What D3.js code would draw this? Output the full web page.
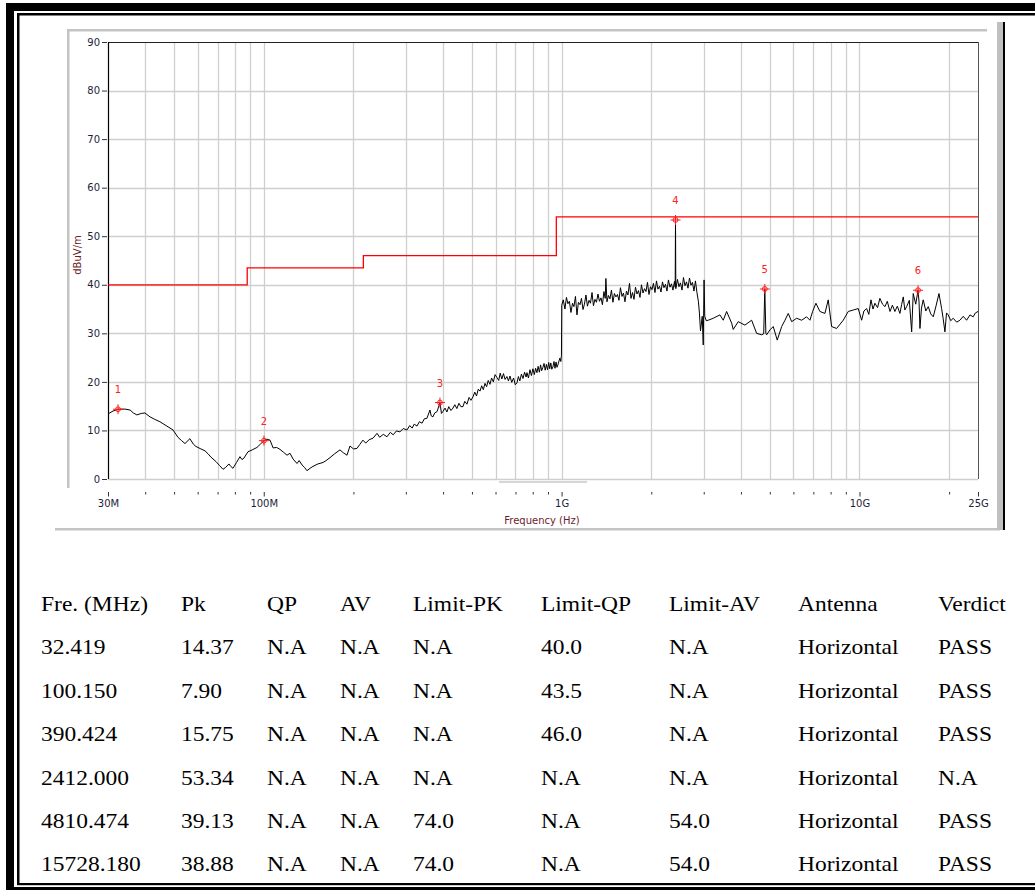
<!DOCTYPE html>
<html><head><meta charset="utf-8">
<script src="https://cdn.jsdelivr.net/npm/d3@7"></script>
<style>body{margin:0;background:#fff}svg{display:block}</style>
</head><body>
<svg id="c" width="1035" height="890"></svg>
<script>
// ---------- data ----------
const yTicks = [0,10,20,30,40,50,60,70,80,90];
const xMajorTicks = [30,100,1000,10000,25000];
const xMajorLabels = ["30M","100M","1G","10G","25G"];
const xMinorTicks = [40,50,60,70,80,90,200,300,400,500,600,700,800,900,2000,3000,4000,5000,6000,7000,8000,9000,20000];
const limitFreq  = [30,88,88,216,216,960,960,25000];
const limitLevel = [40,40,43.5,43.5,46,46,54,54];
const markerFreq  = [32.419,100.150,390.424,2412.000,4810.474,15728.180];
const markerLevel = [14.37,7.90,15.75,53.34,39.13,38.88];
const markerLabels = ["1","2","3","4","5","6"];
// trace: [frequency MHz, level dBuV/m]
const traceLow = [[30.0,13.4],[31.2,14.0],[32.42,14.37],[34.2,14.4],[35.6,14.2],[36.5,13.6],[37.5,13.2],[38.8,13.5],[39.9,13.6],[41.5,12.8],[43.0,12.3],[44.8,11.8],[47.0,11.0],[49.6,10.1],[51.5,8.6],[53.0,7.9],[54.4,7.3],[56.5,8.3],[58.0,7.2],[59.2,6.7],[61.5,6.2],[63.5,5.8],[65.0,5.2],[66.5,4.5],[69.1,3.6],[71.0,2.8],[73.0,2.0],[74.5,2.4],[76.4,3.1],[77.5,2.6],[78.8,2.2],[81.0,3.4],[83.2,4.6],[84.5,4.0],[85.8,4.3],[88.5,5.6],[91.5,6.0],[94.9,6.5],[97.5,7.2],[100.15,7.9],[102.5,8.2],[105.0,8.0],[107.5,6.4],[110.5,6.5],[113.4,6.1],[116.5,5.5],[119.7,4.9],[122.5,5.3],[125.5,4.1],[129.3,3.2],[131.5,3.8],[134.4,2.9],[137.0,2.4],[139.7,1.7],[143.0,2.2],[146.3,2.6],[152.0,3.1],[158.1,3.4],[162.0,3.8],[166.9,4.4],[173.0,5.2],[180.3,6.0],[185.0,5.4],[190.3,4.9],[194.8,6.8],[200.0,6.2],[205.6,6.3],[210.0,7.1],[215.3,8.0],[220.0,7.4],[226.0,8.1],[232.7,8.4],[240.0,9.4],[245.0,8.6],[252.0,9.2],[259.3,8.7],[266.0,9.6],[272.0,9.1],[279.0,9.9],[286.6,9.7],[294.0,10.4],[302.6,10.1],[309.0,11.0],[315.0,10.5],[320.0,11.3],[326.9,10.9],[333.0,11.8],[340.0,11.5],[346.0,12.4],[353.1,12.5],[361.4,14.2],[365.0,13.0],[369.9,12.8],[375.0,13.6],[382.0,13.9],[390.42,15.75],[395.0,13.5],[399.5,13.9],[406.0,14.6],[412.0,13.8],[418.0,14.9],[425.0,14.1],[431.8,14.6],[438.0,15.3],[445.0,14.5],[452.0,15.6],[459.0,14.9],[466.4,14.9],[473.0,16.0],[481.0,15.4],[489.0,16.8],[496.0,16.2],[504.0,16.9],[511.0,17.9],[518.0,17.1],[525.0,18.5],[532.1,18.1],[539.0,19.2],[546.0,18.4],[553.0,19.7],[560.0,19.0],[567.0,20.3],[574.7,19.5],[582.0,20.8],[590.0,20.0],[598.0,21.5],[606.7,20.9],[615.0,20.3],[622.0,21.8],[630.0,20.6],[638.0,21.7],[646.0,20.5],[655.4,21.1],[663.0,20.2],[671.0,21.2],[680.0,19.9],[690.0,20.8],[699.0,19.4],[708.1,19.8],[716.0,21.1],[724.0,20.2],[733.0,21.6],[742.0,20.7],[751.0,22.0],[760.0,21.0],[765.0,21.9],[774.0,20.8],[783.0,22.5],[792.0,21.3],[801.0,22.7],[810.0,21.5],[818.0,22.8],[826.4,21.9],[834.0,23.2],[842.0,22.0],[850.0,23.5],[857.0,22.3],[865.5,23.0],[873.0,23.8],[881.0,22.4],[889.0,23.6],[897.0,22.5],[905.0,24.0],[912.0,22.7],[920.0,23.9],[927.0,22.6],[935.0,23.1],[943.0,24.2],[950.0,22.8],[958.0,24.1],[965.0,23.0],[971.9,23.5],[980.0,24.3],[987.0,24.9],[994.0,24.2],[998.7,25.5]];
const traceMid = [[1001,35.8],[1013,36.9],[1026,35.0],[1038,37.4],[1050,36.1],[1062,36.6],[1075,34.3],[1088,36.2],[1100,35.5],[1113,37.6],[1126,33.8],[1139,36.4],[1153,35.9],[1166,37.2],[1180,34.9],[1193,36.0],[1207,37.9],[1221,35.6],[1236,36.8],[1250,36.2],[1265,38.4],[1279,35.7],[1294,37.0],[1309,36.4],[1325,38.1],[1340,36.6],[1356,37.3],[1371,35.9],[1387,38.6],[1401,37.2],[1408,41.3],[1420,36.5],[1436,37.8],[1453,37.1],[1470,38.9],[1487,36.4],[1504,38.2],[1522,37.5],[1540,38.0],[1558,36.8],[1576,39.4],[1595,37.6],[1613,38.3],[1632,36.5],[1651,38.7],[1670,37.9],[1690,40.3],[1710,37.2],[1730,38.4],[1750,37.0],[1770,39.5],[1791,38.1],[1812,38.8],[1833,37.4],[1854,40.0],[1876,38.3],[1898,39.2],[1920,38.6],[1942,40.5],[1965,38.0],[1988,39.6],[2011,39.0],[2034,40.3],[2058,38.4],[2082,40.8],[2106,39.1],[2131,39.7],[2156,38.5],[2181,40.6],[2206,39.4],[2232,40.1],[2258,38.7],[2284,41.0],[2311,39.5],[2338,40.2],[2365,38.9],[2393,40.7],[2406,39.5],[2412,53.34],[2418,39.2],[2449,41.1],[2477,39.6],[2506,40.4],[2536,38.9],[2565,41.5],[2595,39.8],[2626,40.6],[2656,39.3],[2687,41.4],[2718,39.9],[2750,40.5],[2782,38.7],[2814,40.8],[2847,38.4],[2880,36.5],[2903,34.0],[2926,30.5],[2966,33.5],[2989,27.6],[3008,41.0],[3024,33.5],[3059,32.6]];
const traceHigh = [[3106,32.7],[3229,33.1],[3401,33.8],[3489,32.7],[3581,34.5],[3723,32.1],[3769,30.8],[3917,32.4],[4125,31.7],[4345,32.7],[4516,30.0],[4694,29.7],[4770,29.9],[4810,39.13],[4850,30.0],[4879,29.7],[5005,30.7],[5135,31.4],[5296,28.6],[5480,31.4],[5622,32.7],[5767,34.1],[5921,32.4],[6152,33.1],[6395,32.7],[6645,33.4],[6818,32.7],[6961,34.5],[7141,36.2],[7365,34.5],[7656,34.1],[7854,36.9],[8063,31.4],[8381,31.0],[8821,32.7],[9169,34.5],[9530,34.8],[9904,35.1],[10170,32.7],[10350,34.6],[10570,35.1],[10750,33.9],[10930,36.9],[11100,35.0],[11270,36.2],[11500,35.3],[11710,37.2],[11950,36.0],[12180,35.5],[12400,36.6],[12660,34.5],[12900,35.8],[13150,34.5],[13400,35.6],[13670,34.1],[13850,35.9],[14030,37.5],[14200,34.8],[14400,35.5],[14700,36.8],[14970,30.3],[15150,38.2],[15450,36.0],[15728,38.88],[15850,36.4],[15960,31.0],[16150,35.2],[16370,36.9],[16700,34.6],[17020,35.5],[17350,34.0],[17690,33.4],[18100,35.8],[18490,38.2],[18870,35.1],[19100,33.0],[19360,30.3],[19600,34.2],[19860,33.8],[20250,32.6],[20640,33.1],[21200,32.3],[21740,32.7],[22300,33.5],[22890,32.7],[23500,33.8],[24090,33.4],[24500,34.2],[25000,34.5]];
// table
const tableHeader = ["Fre. (MHz)","Pk","QP","AV","Limit-PK","Limit-QP","Limit-AV","Antenna","Verdict"];
const colFre      = ["32.419","100.150","390.424","2412.000","4810.474","15728.180"];
const colPk       = ["14.37","7.90","15.75","53.34","39.13","38.88"];
const colQP       = ["N.A","N.A","N.A","N.A","N.A","N.A"];
const colAV       = ["N.A","N.A","N.A","N.A","N.A","N.A"];
const colLimitPK  = ["N.A","N.A","N.A","N.A","74.0","74.0"];
const colLimitQP  = ["40.0","43.5","46.0","N.A","N.A","N.A"];
const colLimitAV  = ["N.A","N.A","N.A","N.A","54.0","54.0"];
const colAntenna  = ["Horizontal","Horizontal","Horizontal","Horizontal","Horizontal","Horizontal"];
const colVerdict  = ["PASS","PASS","PASS","N.A","PASS","PASS"];

// ---------- drawing ----------
const svg = d3.select('#c');
const x = d3.scaleLog().domain([30,25000]).range([108,978]);
const y = d3.scaleLinear().domain([0,90]).range([479,42]);
const tickFont = "DejaVu Sans, Verdana, sans-serif";
const tickColor = "#1e1e3a";
const titleColor = "#6e1c2c";

// page frame (double border)
svg.append("rect").attr("x",6).attr("y",3).attr("width",1029).attr("height",8).attr("fill","#000");
svg.append("rect").attr("x",6).attr("y",3).attr("width",8).attr("height",887).attr("fill","#000");
svg.append("rect").attr("x",17).attr("y",13).attr("width",1018).attr("height",2.5).attr("fill","#000");
svg.append("rect").attr("x",17).attr("y",13).attr("width",2.5).attr("height",872).attr("fill","#000");
svg.append("rect").attr("x",17).attr("y",883).attr("width",1018).attr("height",2.2).attr("fill","#000");
svg.append("rect").attr("x",6).attr("y",887).attr("width",1029).attr("height",3).attr("fill","#000");

// chart panel edges
svg.append("rect").attr("x",67).attr("y",29).attr("width",920).attr("height",2.5).attr("fill","#c4c4c4");
svg.append("rect").attr("x",67).attr("y",29).attr("width",2.5).attr("height",459).attr("fill","#c4c4c4");
svg.append("rect").attr("x",55).attr("y",528).attr("width",945).attr("height",2.5).attr("fill","#c4c4c4");
svg.append("rect").attr("x",997).attr("y",22).attr("width",6).attr("height",508).attr("fill","#c0c0c0");
svg.append("rect").attr("x",1003).attr("y",22).attr("width",2).attr("height",508).attr("fill","#000");

// grid
const gridColor = "#cfcfcf";
svg.append("g").selectAll("line").data(yTicks.slice(0,-1)).join("line")
  .attr("x1",x(30)).attr("x2",x(25000))
  .attr("y1",d=>Math.round(y(d))+0.5).attr("y2",d=>Math.round(y(d))+0.5)
  .attr("stroke",gridColor).attr("stroke-width",1.3);
svg.append("g").selectAll("line").data(xMinorTicks.concat([100,1000,10000])).join("line")
  .attr("x1",d=>Math.round(x(d))+0.5).attr("x2",d=>Math.round(x(d))+0.5)
  .attr("y1",y(90)).attr("y2",y(0))
  .attr("stroke",gridColor).attr("stroke-width",1.3);
// plot frame top / right
svg.append("line").attr("x1",x(30)).attr("x2",x(25000)).attr("y1",Math.round(y(90))+0.5).attr("y2",Math.round(y(90))+0.5).attr("stroke","#222").attr("stroke-width",1);
svg.append("line").attr("x1",Math.round(x(25000))+0.5).attr("x2",Math.round(x(25000))+0.5).attr("y1",y(90)).attr("y2",y(0)).attr("stroke","#555").attr("stroke-width",1);
// left axis line
svg.append("line").attr("x1",Math.round(x(30))+0.5).attr("x2",Math.round(x(30))+0.5).attr("y1",y(90)).attr("y2",y(0)).attr("stroke","#000").attr("stroke-width",1.2);

// y axis
const yAxis = svg.append("g").attr("transform","translate(107,0)")
  .call(d3.axisLeft(y).tickValues(yTicks).tickSize(5).tickPadding(2));
yAxis.select(".domain").remove();
yAxis.selectAll("line").attr("stroke","#333");
yAxis.selectAll("text").attr("font-family",tickFont).attr("font-size",10).attr("fill",tickColor);

// x axis ticks (minor / major)
const xMinor = svg.append("g").attr("transform","translate(0,492)")
  .call(d3.axisBottom(x).tickValues(xMinorTicks).tickSize(2.5).tickFormat(""));
xMinor.select(".domain").remove();
xMinor.selectAll("line").attr("stroke","#333");
const xMajor = svg.append("g").attr("transform","translate(0,492)")
  .call(d3.axisBottom(x).tickValues(xMajorTicks).tickSize(4.5).tickPadding(3)
    .tickFormat((d,i)=>xMajorLabels[i]));
xMajor.select(".domain").remove();
xMajor.selectAll("line").attr("stroke","#333");
xMajor.selectAll("text").attr("font-family",tickFont).attr("font-size",10).attr("fill",tickColor);

// faint scroll line under axis
svg.append("line").attr("x1",499).attr("x2",587).attr("y1",482).attr("y2",482).attr("stroke","#d6d6d6").attr("stroke-width",2);

// axis titles
svg.append("text").attr("transform","translate(81,255) rotate(-90)").attr("text-anchor","middle")
  .attr("font-family",tickFont).attr("font-size",10).attr("fill",titleColor).text("dBuV/m");
svg.append("text").attr("x",542).attr("y",524).attr("text-anchor","middle")
  .attr("font-family",tickFont).attr("font-size",10).attr("fill",titleColor).text("Frequency (Hz)");

// limit line
const line = d3.line().x(d=>x(d[0])).y(d=>y(d[1]));
svg.append("path").datum(limitFreq.map((f,i)=>[f,limitLevel[i]]))
  .attr("d",line).attr("fill","none").attr("stroke","#ff0000").attr("stroke-width",1.3);

// trace
svg.append("path").datum(traceLow.concat(traceMid,traceHigh))
  .attr("d",line).attr("fill","none").attr("stroke","#000").attr("stroke-width",1).attr("stroke-linejoin","miter");

// markers
const mk = svg.append("g").selectAll("g").data(markerFreq).join("g")
  .attr("transform",(d,i)=>`translate(${x(d)},${y(markerLevel[i])})`);
mk.append("line").attr("x1",-5).attr("x2",5).attr("y1",0).attr("y2",0).attr("stroke","#ff1a1a").attr("stroke-width",1);
mk.append("line").attr("x1",0).attr("x2",0).attr("y1",-5).attr("y2",5).attr("stroke","#ff1a1a").attr("stroke-width",1);
mk.append("circle").attr("r",2.4).attr("fill","none").attr("stroke","#ff1a1a").attr("stroke-width",1);
mk.append("text").attr("y",-16).attr("text-anchor","middle").attr("font-family",tickFont)
  .attr("font-size",10).attr("fill","#ff2020").text((d,i)=>markerLabels[i]);

// table
const colX = [41,181,267,340,413,541,669,798,938];
const columns = [colFre,colPk,colQP,colAV,colLimitPK,colLimitQP,colLimitAV,colAntenna,colVerdict];
const tbl = svg.append("g").attr("font-family","Liberation Serif, Times New Roman, serif").attr("font-size",23.5).attr("fill","#000");
const rowY = d3.scaleLinear().domain([0,1]).range([611,654.4]);
tableHeader.forEach((h,c)=>{
  tbl.append("text").attr("transform",`translate(${colX[c]},${rowY(0)}) scale(1,0.9)`).text(h);
  columns[c].forEach((v,r)=>{
    tbl.append("text").attr("transform",`translate(${colX[c]},${rowY(r+1)}) scale(1,0.9)`).text(v);
  });
});
</script>
</body></html>
